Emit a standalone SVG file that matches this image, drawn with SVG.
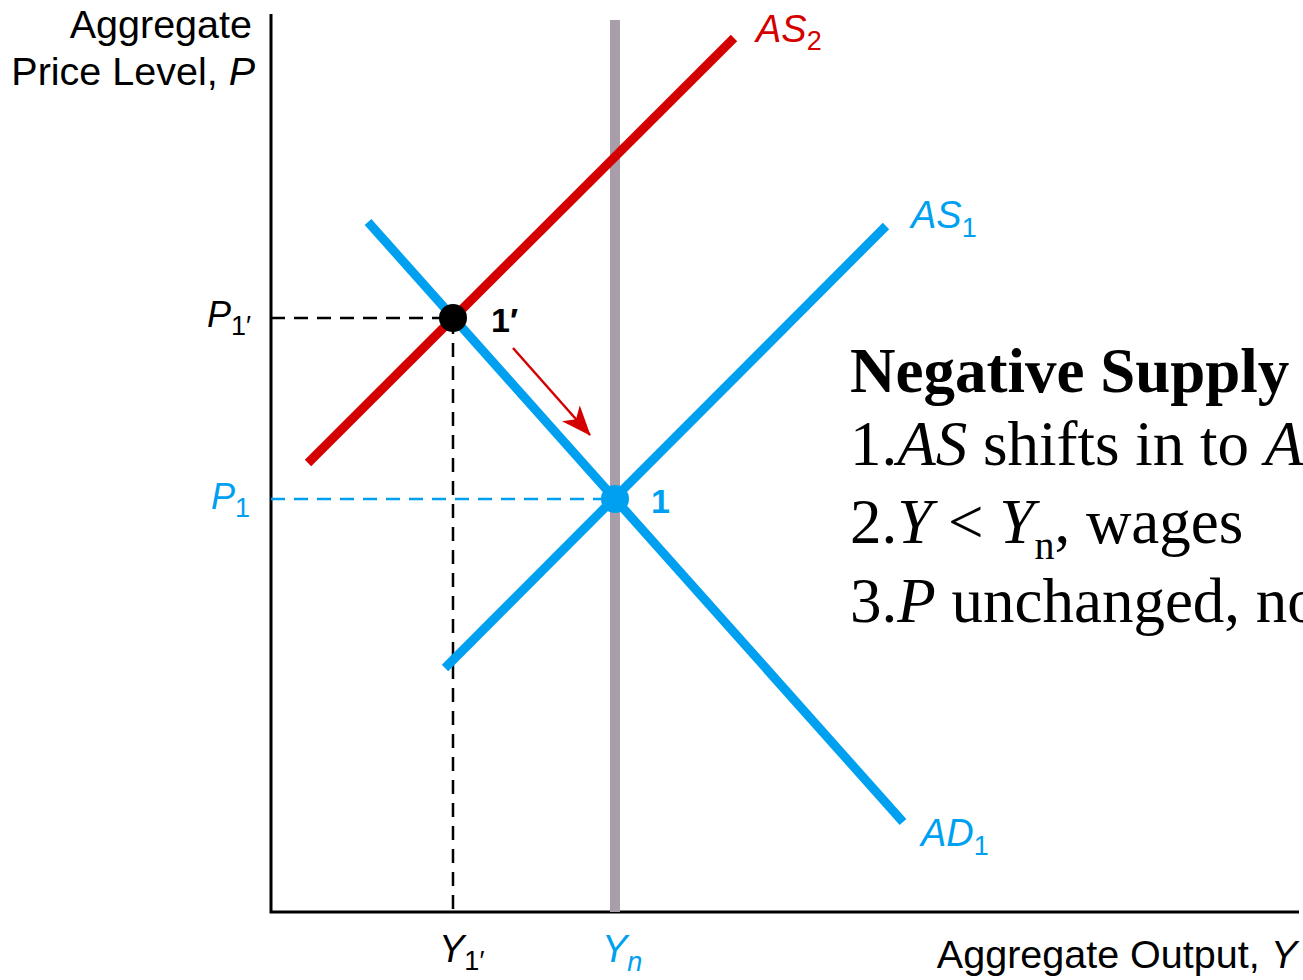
<svg xmlns="http://www.w3.org/2000/svg" width="1303" height="980" viewBox="0 0 1303 980">
<defs>
<style>
.sans{font-family:"Liberation Sans",Arial,sans-serif}
.serif{font-family:"Liberation Serif","Times New Roman",serif}
.ax{fill:#000;font-size:39.5px}
.lab{font-size:38px}
.it{font-style:italic}
.blue{fill:#00a0f0}
.red{fill:#d40000}
.curve{fill:none;stroke-width:9;stroke-linecap:butt}
.dash{fill:none;stroke-width:2.5;stroke-dasharray:14 9}
.txt{font-size:63px;fill:#000}
</style>
<marker id="arrbig" viewBox="0 0 30 24" refX="29" refY="12" markerWidth="30" markerHeight="24" markerUnits="userSpaceOnUse" orient="auto">
<path d="M0,0 L30,12 L0,24 L8,12 Z" fill="#d40000"/>
</marker>
</defs>
<rect width="1303" height="980" fill="#fff"/>

<g id="axes">
<path d="M271,14 V912 H1299" fill="none" stroke="#000" stroke-width="3"/>
<text class="sans ax" x="252" y="38" text-anchor="end">Aggregate</text>
<text class="sans ax" x="255" y="85" text-anchor="end">Price Level, <tspan class="it">P</tspan></text>
<text class="sans ax" x="1297" y="968" text-anchor="end">Aggregate Output,  <tspan class="it">Y</tspan></text>
</g>

<g id="natural-output">
<line x1="615" y1="20" x2="615" y2="912" stroke="#a89ea9" stroke-width="10"/>
</g>

<g id="connectors">
<path class="dash" d="M271,318 H453 V912" stroke="#000"/>
<path class="dash" d="M271,499 H615" stroke="#00a0f0"/>
<line x1="513" y1="348" x2="590" y2="435" stroke="#d40000" stroke-width="2.5" marker-end="url(#arrbig)"/>
</g>

<g id="AS2">
<line class="curve" x1="308" y1="463" x2="734" y2="38" stroke="#d40000"/>
<text class="sans lab red it" x="756" y="42">AS<tspan font-style="normal" font-size="27" dy="8">2</tspan></text>
</g>

<g id="AD1">
<line class="curve" x1="368" y1="222" x2="903" y2="822" stroke="#00a0f0"/>
<text class="sans lab blue it" x="921" y="846">AD<tspan font-style="normal" font-size="27" dy="9">1</tspan></text>
</g>

<g id="AS1">
<line class="curve" x1="445" y1="668" x2="886" y2="226" stroke="#00a0f0"/>
<text class="sans lab blue it" x="911" y="228">AS<tspan font-style="normal" font-size="27" dy="9">1</tspan></text>
</g>

<g id="point-1prime">
<circle cx="453" cy="318" r="14" fill="#000"/>
<text class="sans" x="491" y="332" font-size="34" font-weight="bold" fill="#000">1′</text>
</g>

<g id="point-1">
<circle cx="615" cy="499" r="14" fill="#00a0f0"/>
<text class="sans blue" x="651" y="513" font-size="34" font-weight="bold">1</text>
</g>

<g id="P1prime">
<text class="sans it" x="207" y="327" font-size="36" fill="#000">P<tspan font-style="normal" font-size="27" dy="8">1′</tspan></text>
</g>
<g id="P1">
<text class="sans it blue" x="211" y="509" font-size="36">P<tspan font-style="normal" font-size="27" dy="8">1</tspan></text>
</g>
<g id="Y1prime">
<text class="sans it" x="439" y="962" font-size="38" fill="#000">Y<tspan font-style="normal" font-size="27" dy="8">1′</tspan></text>
</g>
<g id="Yn">
<text class="sans it blue" x="602" y="962" font-size="38">Y<tspan font-size="27" dy="9">n</tspan></text>
</g>

<g id="textblock">
<text class="serif txt" x="850" y="392" font-weight="bold">Negative Supply</text>
<text class="serif txt" x="850" y="465">1.<tspan class="it">AS</tspan> shifts in to <tspan class="it">A</tspan></text>
<text class="serif txt" x="850" y="543">2.<tspan class="it">Y</tspan> &lt; <tspan class="it">Y</tspan><tspan font-size="40" dy="16">n</tspan><tspan dy="-16">, wages</tspan></text>
<text class="serif txt" x="850" y="622">3.<tspan class="it">P</tspan> unchanged, no</text>
</g>
</svg>
